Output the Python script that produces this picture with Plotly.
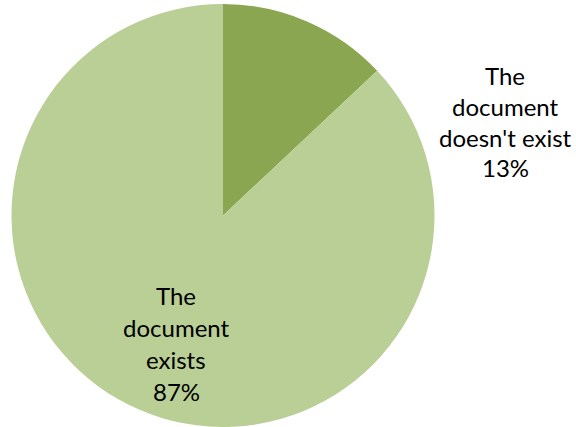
import plotly.graph_objects as go

labels = ["The document doesn't exist", "The document exists"]
values = [13, 87]
colors = ["#8BA650", "#B9CF96"]
label_lines = [["The", "document", "doesn't exist"], ["The", "document", "exists"]]

W, H = 576, 427

fig = go.Figure(go.Pie(
    labels=labels,
    values=values,
    sort=False,
    direction="clockwise",
    rotation=0,
    marker=dict(colors=colors, line=dict(width=0)),
    textinfo="none",
    hoverinfo="label+percent",
    showlegend=False,
    domain=dict(x=[11 / W, 435 / W], y=[0, 1 - 4 / H]),
))

# label anchors (pixel centers of first line) and line spacing
anchors = [(505, 76, 30.5), (176, 295, 32.3)]
total = sum(values)
annotations = []
for lines, v, (cx, cy, dy) in zip(label_lines, values, anchors):
    pct = f"{round(100 * v / total)}%"
    for i, t in enumerate(lines + [pct]):
        annotations.append(dict(
            x=cx / W, y=1 - (cy + i * dy) / H, xref="paper", yref="paper",
            text=t, showarrow=False, xanchor="center", yanchor="middle",
            font=dict(family="Lato", size=24, color="#000000"),
        ))

fig.update_layout(
    width=W, height=H,
    margin=dict(l=0, r=0, t=0, b=0),
    paper_bgcolor="white", plot_bgcolor="white",
    annotations=annotations,
)
fig.write_html("out.html", config={"displayModeBar": False},
               post_script="document.body.style.margin='0';")
